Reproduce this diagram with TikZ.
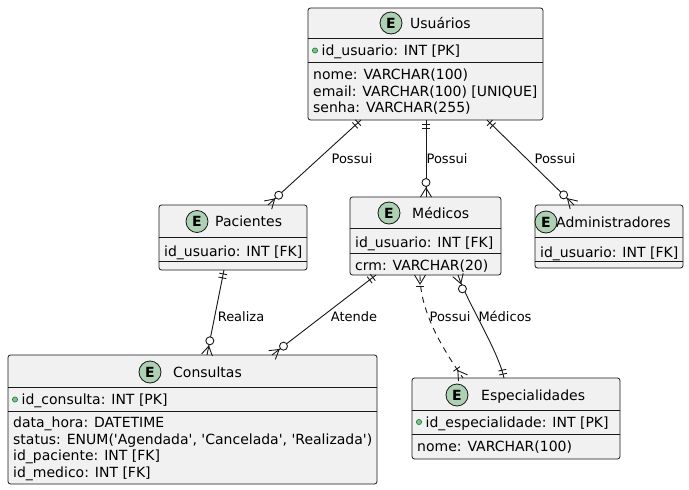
\documentclass[tikz,border=0pt]{standalone}
\usepackage{fontspec}
\setmainfont{DejaVu Sans}[Ligatures=TeXOff]
\usetikzlibrary{calc}
\definecolor{boxfill}{HTML}{F1F1F1}
\definecolor{boxline}{HTML}{181818}
\definecolor{spot}{HTML}{ADD1B2}
\definecolor{pkline}{HTML}{038048}
\definecolor{pkfill}{HTML}{84BE84}
\tikzset{
 entity/.style={draw=boxline, fill=boxfill, rounded corners=2.5pt, line width=0.8pt, anchor=north west, inner sep=0pt, outer sep=0pt},
 sepline/.style={draw=boxline, line width=0.8pt},
 conn/.style={draw=boxline, line width=0.9pt},
 attr/.style={anchor=base west, inner sep=0pt, font=\fontsize{14}{16.5}\selectfont},
 etitle/.style={anchor=base west, inner sep=0pt, font=\fontsize{14}{16.5}\selectfont},
 spotc/.style={draw=boxline, fill=spot, line width=0.8pt, circle, minimum size=22pt, inner sep=0pt, font=\fontsize{14}{16}\selectfont\bfseries},
 pk/.style={draw=pkline, fill=pkfill, line width=0.6pt},
 lbl/.style={anchor=base, inner sep=0pt, font=\fontsize{13}{15}\selectfont},
}
\newcommand{\ebox}[5]{\node[entity, minimum width=#4, minimum height=#5] (#1) at (#2,#3) {};}
\newcommand{\barmark}[3]{%
  \coordinate (tmpc) at ($(#1)!#3!(#2)$);
  \draw[conn] ($(tmpc)!4pt!90:(#2)$) -- ($(tmpc)!4pt!-90:(#2)$);}
\newcommand{\footmark}[2]{%
  \coordinate (tmpa) at ($(#1)!9pt!(#2)$);
  \draw[conn] ($(#1)!5.5pt!90:(#2)$) -- (tmpa) -- ($(#1)!5.5pt!-90:(#2)$);}
\newcommand{\ringmark}[2]{%
  \draw[conn, fill=white] ($(#1)!14.5pt!(#2)$) circle[radius=4pt];}
\newcommand{\exactlyone}[2]{\barmark{#1}{#2}{4pt}\barmark{#1}{#2}{8pt}}
\newcommand{\zeromany}[2]{\footmark{#1}{#2}\ringmark{#1}{#2}}
\newcommand{\onemany}[2]{\footmark{#1}{#2}\barmark{#1}{#2}{11pt}}
\begin{document}
\begin{tikzpicture}[x=1pt,y=-1pt]
\fill[white] (0,0) rectangle (689,490);
\useasboundingbox (0,0) rectangle (689,490);

% ---------- Usuarios
\ebox{usu}{308}{8}{235}{112}
\draw[sepline] (308,38) -- (543,38);
\draw[sepline] (308,62) -- (543,62);
\node[spotc] (ususpot) at (391,23) {E};
\node[etitle] (usutitle) at (410,28) {Usuários};
\draw[pk] (315,50.5) circle[radius=2.6pt];
\node[attr] (usupk) at (321.5,55.5) {id\_usuario: INT [PK]};
\node[attr] (usua1) at (313,79.5) {nome: VARCHAR(100)};
\node[attr] (usua2) at (313,96) {email: VARCHAR(100) [UNIQUE]};
\node[attr] (usua3) at (313,112.5) {senha: VARCHAR(255)};

% ---------- Pacientes
\ebox{pac}{159}{205}{148}{65}
\draw[sepline] (159,237) -- (307,237);
\draw[sepline] (159,261.5) -- (307,261.5);
\node[spotc] (pacspot) at (197,221.5) {E};
\node[etitle] (pactitle) at (215,226.5) {Pacientes};
\node[attr] (paca1) at (164,256) {id\_usuario: INT [FK]};

% ---------- Medicos
\ebox{med}{350}{197}{151}{78}
\draw[sepline] (350,228) -- (501,228);
\draw[sepline] (350,253) -- (501,253);
\node[spotc] (medspot) at (389,213) {E};
\node[etitle] (medtitle) at (412,218) {Médicos};
\node[attr] (meda1) at (355,247) {id\_usuario: INT [FK]};
\node[attr] (meda2) at (355,270) {crm: VARCHAR(20)};

% ---------- Administradores
\ebox{adm}{535}{205}{148}{63}
\draw[sepline] (535,237) -- (683,237);
\draw[sepline] (535,261) -- (683,261);
\node[spotc] (admspot) at (546,222) {E};
\node[etitle] (admtitle) at (556,227) {Administradores};
\node[attr] (adma1) at (540,257) {id\_usuario: INT [FK]};

% ---------- Consultas
\ebox{con}{8}{355}{369}{129}
\draw[sepline] (8,387) -- (377,387);
\draw[sepline] (8,411) -- (377,411);
\node[spotc] (conspot) at (150,372) {E};
\node[etitle] (contitle) at (173,377) {Consultas};
\draw[pk] (15,399.5) circle[radius=2.6pt];
\node[attr] (conpk) at (21.5,404.5) {id\_consulta: INT [PK]};
\node[attr] (cona1) at (13,427.5) {data\_hora: DATETIME};
\node[attr] (cona2) at (13,444) {status: ENUM('Agendada', 'Cancelada', 'Realizada')};
\node[attr] (cona3) at (13,460.5) {id\_paciente: INT [FK]};
\node[attr] (cona4) at (13,477) {id\_medico: INT [FK]};

% ---------- Especialidades
\ebox{esp}{412}{378}{208}{81}
\draw[sepline] (412,410) -- (620,410);
\draw[sepline] (412,434) -- (620,434);
\node[spotc] (espspot) at (457,395) {E};
\node[etitle] (esptitle) at (481,400) {Especialidades};
\draw[pk] (419,422) circle[radius=2.6pt];
\node[attr] (esppk) at (425.5,427) {id\_especialidade: INT [PK]};
\node[attr] (espa1) at (417,451.5) {nome: VARCHAR(100)};

% ---------- connector end points
\coordinate (c1s) at ([xshift=53pt]usu.south west);
\coordinate (c1e) at ([xshift=109pt]pac.north west);
\coordinate (c2s) at ([xshift=118pt]usu.south west);
\coordinate (c2e) at ([xshift=76pt]med.north west);
\coordinate (c3s) at ([xshift=179pt]usu.south west);
\coordinate (c3e) at ([xshift=39pt]adm.north west);
\coordinate (c4s) at ([xshift=65pt]pac.south west);
\coordinate (c4e) at ([xshift=199pt]con.north west);
\coordinate (c5s) at ([xshift=26pt]med.south west);
\coordinate (c5e) at ([xshift=264pt]con.north west);
\coordinate (c6s) at ([xshift=70pt]med.south west);
\coordinate (c6e) at ([xshift=51pt]esp.north west);
\coordinate (c7s) at ([xshift=108pt]med.south west);
\coordinate (c7e) at ([xshift=92pt]esp.north west);
\coordinate (c6a) at ($(c6s)+(0,35)$);
\coordinate (c6b) at ($(c6e)+(-23,-33)$);
\coordinate (c7a) at ($(c7s)+(8,25)$);
\coordinate (c7b) at ($(c7e)+(-6,-28)$);

% ---------- connectors
\draw[conn] (c1s) -- (c1e);
\exactlyone{c1s}{c1e}\zeromany{c1e}{c1s}
\draw[conn] (c2s) -- (c2e);
\exactlyone{c2s}{c2e}\zeromany{c2e}{c2s}
\draw[conn] (c3s) -- (c3e);
\exactlyone{c3s}{c3e}\zeromany{c3e}{c3s}
\draw[conn] (c4s) -- (c4e);
\exactlyone{c4s}{c4e}\zeromany{c4e}{c4s}
\draw[conn] (c5s) -- (c5e);
\exactlyone{c5s}{c5e}\zeromany{c5e}{c5s}
\draw[conn, dash pattern=on 6pt off 5pt] (c6s) .. controls (c6a) and (c6b) .. (c6e);
\onemany{c6s}{c6a}\onemany{c6e}{c6b}
\draw[conn] (c7s) .. controls (c7a) and (c7b) .. (c7e);
\zeromany{c7s}{c7a}\exactlyone{c7e}{c7b}

% ---------- labels
\node[lbl] (l1) at (352,163.5) {Possui};
\node[lbl] (l2) at (447,163.5) {Possui};
\node[lbl] (l3) at (555,163.5) {Possui};
\node[lbl] (l4) at (241,321) {Realiza};
\node[lbl] (l5) at (354,321) {Atende};
\node[lbl] (l6) at (450,321) {Possui};
\node[lbl] (l7) at (505,321) {Médicos};
\end{tikzpicture}
\end{document}
